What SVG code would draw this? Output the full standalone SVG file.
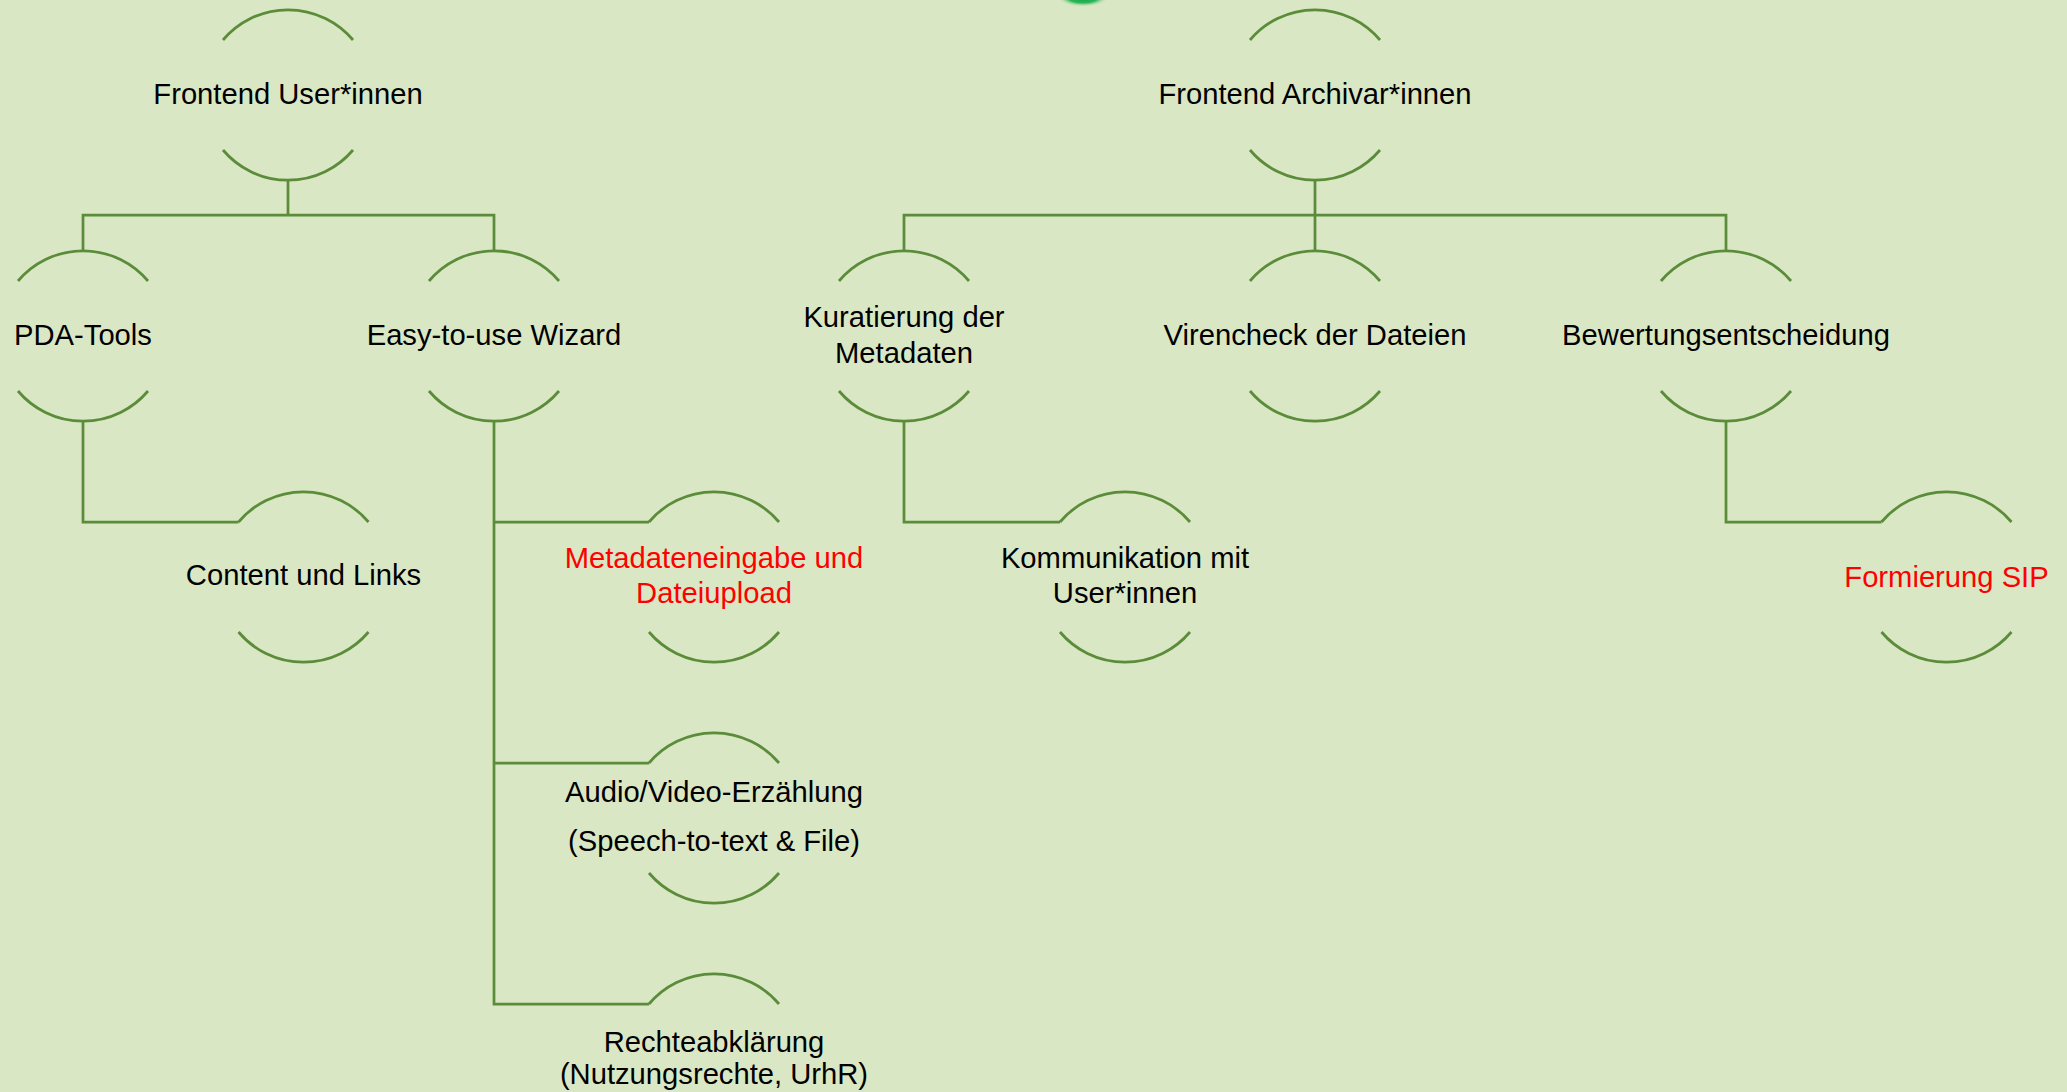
<svg xmlns="http://www.w3.org/2000/svg" xmlns:xlink="http://www.w3.org/1999/xlink" width="2067" height="1092" viewBox="0 0 2067 1092">
  <style>
    .ln { fill: none; stroke: #5A8C3A; stroke-width: 2.75; }
    .t { font-family: "Liberation Sans", Arial, sans-serif; font-size: 29.2px; fill: #000000; text-anchor: middle; }
    .red { fill: #FF0000; }
  </style>
  <defs>
    <path id="ring" class="ln" d="M-65,-55 A85,85 0 0 1 65,-55 M-65,55 A85,85 0 0 0 65,55"/>
    <radialGradient id="glow" cx="0.5" cy="0.5" r="0.5">
      <stop offset="0" stop-color="#0E9A3E"/>
      <stop offset="0.6" stop-color="#2DB85A"/>
      <stop offset="1" stop-color="#DAE7C4" stop-opacity="0"/>
    </radialGradient>
  </defs>
  <rect x="0" y="0" width="2067" height="1092" fill="#DAE7C4"/>
  <ellipse cx="1083" cy="-3" rx="26" ry="10" fill="url(#glow)"/>

  <g id="connectors" class="ln">
    <path d="M288,180 V215"/>
    <path d="M83,251 V215 H494 V251"/>
    <path d="M1315,180 V251"/>
    <path d="M904,251 V215 H1726 V251"/>
    <path d="M83,421 V522 H238.5"/>
    <path d="M494,421 V1004 H649"/>
    <path d="M494,522 H649"/>
    <path d="M494,763 H649"/>
    <path d="M904,421 V522 H1060"/>
    <path d="M1726,421 V522 H1881.5"/>
  </g>

  <g id="node-frontend-user">
    <use xlink:href="#ring" x="288" y="95"/>
    <text class="t" x="288" y="104">Frontend User*innen</text>
  </g>
  <g id="node-pda-tools">
    <use xlink:href="#ring" x="83" y="336"/>
    <text class="t" x="83" y="345">PDA-Tools</text>
  </g>
  <g id="node-wizard">
    <use xlink:href="#ring" x="494" y="336"/>
    <text class="t" x="494" y="345">Easy-to-use Wizard</text>
  </g>
  <g id="node-content">
    <use xlink:href="#ring" x="303.5" y="577"/>
    <text class="t" x="303.5" y="585">Content und Links</text>
  </g>
  <g id="node-metadaten">
    <use xlink:href="#ring" x="714" y="577"/>
    <text class="t red" x="714" y="568">Metadateneingabe und</text>
    <text class="t red" x="714" y="603">Dateiupload</text>
  </g>
  <g id="node-audio">
    <use xlink:href="#ring" x="714" y="818"/>
    <text class="t" x="714" y="802">Audio/Video-Erzählung</text>
    <text class="t" x="714" y="851">(Speech-to-text &amp; File)</text>
  </g>
  <g id="node-rechte">
    <use xlink:href="#ring" x="714" y="1059"/>
    <text class="t" x="714" y="1052">Rechteabklärung</text>
    <text class="t" x="714" y="1084">(Nutzungsrechte, UrhR)</text>
  </g>
  <g id="node-frontend-archivar">
    <use xlink:href="#ring" x="1315" y="95"/>
    <text class="t" x="1315" y="104">Frontend Archivar*innen</text>
  </g>
  <g id="node-kuratierung">
    <use xlink:href="#ring" x="904" y="336"/>
    <text class="t" x="904" y="327">Kuratierung der</text>
    <text class="t" x="904" y="363">Metadaten</text>
  </g>
  <g id="node-virencheck">
    <use xlink:href="#ring" x="1315" y="336"/>
    <text class="t" x="1315" y="345">Virencheck der Dateien</text>
  </g>
  <g id="node-bewertung">
    <use xlink:href="#ring" x="1726" y="336"/>
    <text class="t" x="1726" y="345">Bewertungsentscheidung</text>
  </g>
  <g id="node-kommunikation">
    <use xlink:href="#ring" x="1125" y="577"/>
    <text class="t" x="1125" y="568">Kommunikation mit</text>
    <text class="t" x="1125" y="603">User*innen</text>
  </g>
  <g id="node-formierung">
    <use xlink:href="#ring" x="1946.5" y="577"/>
    <text class="t red" x="1946.5" y="587">Formierung SIP</text>
  </g>
</svg>
